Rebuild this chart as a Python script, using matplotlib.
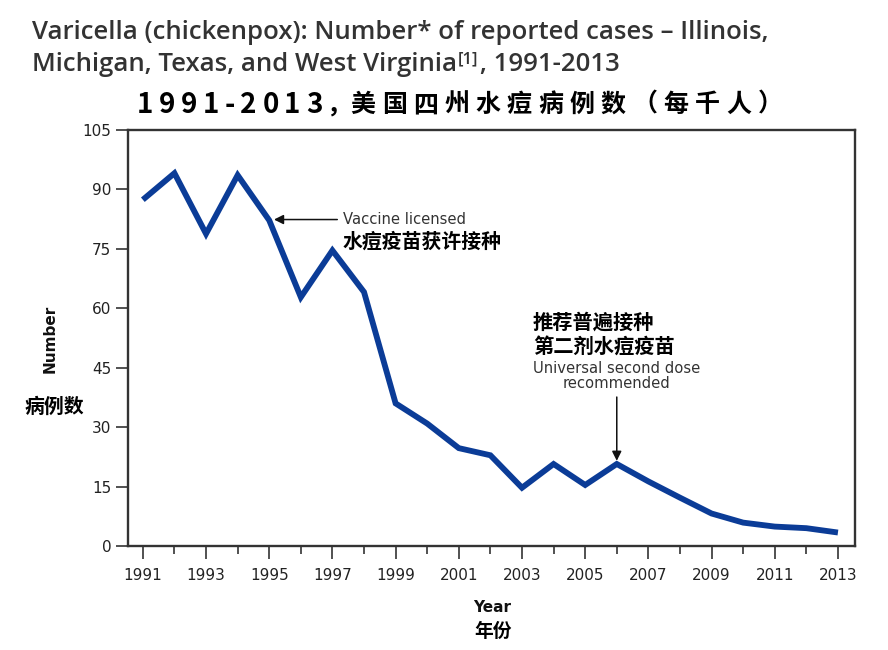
import matplotlib
matplotlib.use("Agg")
import matplotlib.pyplot as plt
import numpy as np

# ---------------- data ----------------
years = list(range(1991, 2014))
cases = [87.4, 94.1, 78.8, 93.6, 82.2, 62.8, 74.6, 64.1, 36.0, 30.9,
         24.7, 22.9, 14.7, 20.7, 15.4, 20.7, 16.3, 12.2, 8.2, 5.9,
         4.9, 4.5, 3.4]
yticks = [0, 15, 30, 45, 60, 75, 90, 105]
xticks_major = list(range(1991, 2014, 2))
xticks_minor = list(range(1992, 2013, 2))

title_en_1 = "Varicella (chickenpox): Number* of reported cases \u2013 Illinois,"
title_en_2a = "Michigan, Texas, and West Virginia"
title_en_sup = "[1]"
title_en_2b = ", 1991-2013"
title_cn_num = "1991-2013"
title_cn_rest = "，美国四州水痘病例数（每千人）"
ylabel_en = "Number"
ylabel_cn = "病例数"
xlabel_en = "Year"
xlabel_cn = "年份"
ann1_en = "Vaccine licensed"
ann1_cn = "水痘疫苗获许接种"
ann2_en = "Universal second dose\nrecommended"
ann2_cn = "推荐普遍接种\n第二剂水痘疫苗"

CJK = ['Noto Sans CJK SC', 'DejaVu Sans']
plt.rcParams['font.family'] = ['DejaVu Sans']

W, H = 888, 650
fig = plt.figure(figsize=(W / 100, H / 100), dpi=100)
L, R, T, B = 128, 855, 130, 546
ax = fig.add_axes([L / W, 1 - B / H, (R - L) / W, (B - T) / H])

line_color = '#0b3c97'
ax.plot(years, cases, color=line_color, lw=4.2, solid_joinstyle='miter',
        solid_capstyle='butt', zorder=3)

ax.set_xlim(1990.53, 2013.54)
ax.set_ylim(0, 105)
ax.set_yticks(yticks)
ax.set_xticks(xticks_major)
ax.set_xticks(xticks_minor, minor=True)
for s in ax.spines.values():
    s.set_color('#333333')
    s.set_linewidth(1.7)
ax.tick_params(axis='both', which='both', direction='out', color='#333333',
               width=1.2, labelsize=11, labelcolor='#222222')
ax.tick_params(axis='x', which='major', length=9, pad=7)
ax.tick_params(axis='x', which='minor', length=6)
ax.tick_params(axis='y', which='major', length=9, pad=3)

# axis labels
fig.text(50 / W, 1 - 339 / H, ylabel_en, rotation=90, ha='center', va='center',
         fontsize=11, fontweight='bold', color='#111111')
fig.text(54 / W, 1 - 406 / H, ylabel_cn, ha='center', va='center',
         fontsize=14.3, fontweight='bold', family=CJK, color='black')
fig.text(492 / W, 1 - 607 / H, xlabel_en, ha='center', va='center',
         fontsize=11, fontweight='bold', color='#111111')
fig.text(493 / W, 1 - 631 / H, xlabel_cn, ha='center', va='center',
         fontsize=13.5, fontweight='bold', family=CJK, color='black')

# annotations
ax.annotate(ann1_en, xy=(1995.15, 82.4), xytext=(1997.33, 82.4),
            ha='left', va='center', fontsize=10.6, color='#333333',
            arrowprops=dict(arrowstyle='-|>', color='#111111', lw=1.1,
                            mutation_scale=14, shrinkA=2, shrinkB=0))
ax.text(1997.33, 76.9, ann1_cn, ha='left', va='center', fontsize=14.3,
        fontweight='bold', family=CJK, color='black')

ax.text(2006.0, 42.9, ann2_en, ha='center', va='center', fontsize=10.6,
        color='#333333', linespacing=1.0)
ax.annotate('', xy=(2006.0, 21.5), xytext=(2006.0, 37.6),
            arrowprops=dict(arrowstyle='-|>', color='#111111', lw=1.1,
                            mutation_scale=14, shrinkA=0, shrinkB=0))
ax.text(2003.35, 53.5, ann2_cn, ha='left', va='center', fontsize=14.6,
        fontweight='bold', family=CJK, color='black', linespacing=1.2)

# English title (two lines with superscript)
tcol = '#333333'
tfont = dict(fontsize=18.5, color=tcol, family=['Open Sans', 'DejaVu Sans'],
             fontweight='semibold')
fig.text(32 / W, 1 - 39 / H, title_en_1, ha='left', va='baseline', **tfont)
t2 = fig.text(32 / W, 1 - 71 / H, title_en_2a, ha='left', va='baseline', **tfont)
sfont = dict(tfont)
sfont['fontsize'] = 12
ts = ax.annotate(title_en_sup, xy=(1, 0), xycoords=t2, xytext=(1, 10),
                 textcoords='offset pixels', ha='left', va='bottom',
                 annotation_clip=False, **sfont)
ax.annotate(title_en_2b, xy=(1, 0), xycoords=ts, xytext=(1, -10),
            textcoords='offset pixels', ha='left', va='bottom',
            annotation_clip=False, **tfont)

# Chinese title with letter spacing
nfont = dict(fontsize=20, fontweight='bold', family=CJK, color='black')
cfont = dict(fontsize=18, fontweight='bold', family=CJK, color='black')
prev = fig.text(137 / W, 1 - 105 / H, title_cn_num[0], ha='left', va='center', **nfont)
for ch in title_cn_num[1:]:
    prev = ax.annotate(ch, xy=(1, 0.5), xycoords=prev, xytext=(5.5, 0),
                       textcoords='offset pixels', ha='left', va='center',
                       annotation_clip=False, **nfont)
for i, ch in enumerate(title_cn_rest):
    gap = 4 if i == 0 else (-1 if i == 1 else 6.3)
    prev = ax.annotate(ch, xy=(1, 0.5), xycoords=prev, xytext=(gap, 0),
                       textcoords='offset pixels', ha='left', va='center',
                       annotation_clip=False, **cfont)

fig.savefig('out.png', dpi=100)
